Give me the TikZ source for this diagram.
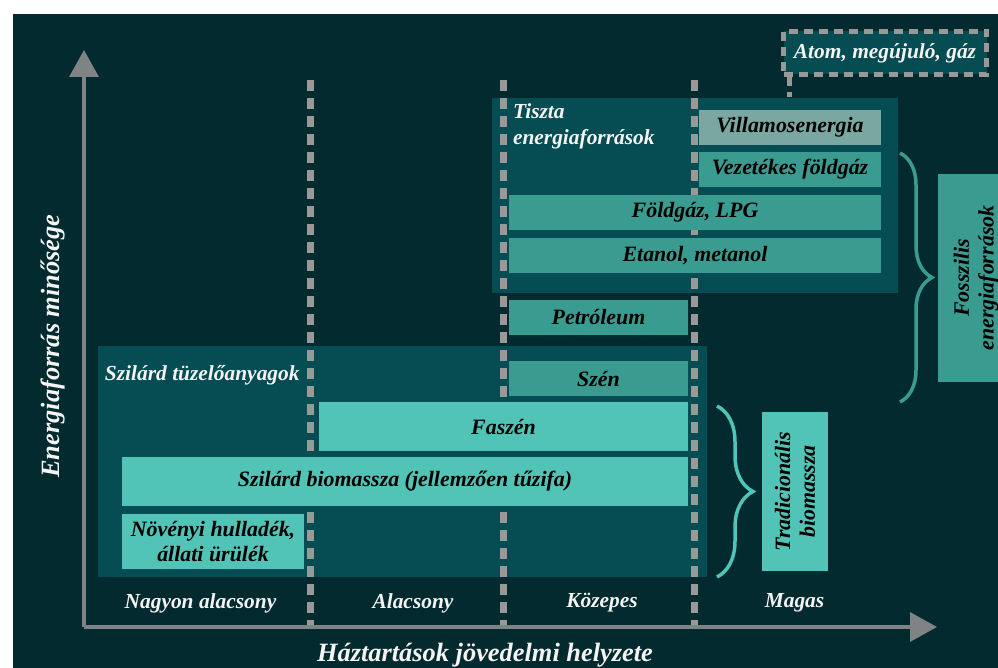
\documentclass[tikz,border=0pt]{standalone}
\usepackage{fontspec}
\setmainfont{Liberation Serif}
\usepackage{tikz}
\usetikzlibrary{arrows.meta, decorations.pathreplacing}

\definecolor{bgdark}{HTML}{032A2E}
\definecolor{boxmid}{HTML}{064C53}
\definecolor{tealgray}{HTML}{7BA7A2}
\definecolor{tealfossil}{HTML}{3A9C91}
\definecolor{tealbio}{HTML}{52C3B7}
\definecolor{axisgray}{HTML}{808384}
\definecolor{dashgray}{HTML}{999999}
\definecolor{labelwhite}{HTML}{F4F4F4}

\begin{document}
\begin{tikzpicture}[x=1bp, y=-1bp, line width=1pt,
    fuel/.style={inner sep=0pt, text=black,
      font=\fontsize{22}{25}\selectfont\bfseries\itshape},
    group/.style={inner sep=0pt, fill=boxmid},
    grouplabel/.style={inner sep=0pt, text=labelwhite, align=left,
      font=\fontsize{21.5}{26}\selectfont\bfseries\itshape},
    axistitle/.style={inner sep=0pt, text=labelwhite,
      font=\fontsize{26.5}{30}\selectfont\bfseries\itshape},
    divider/.style={color=dashgray, line width=7bp, dash pattern=on 11bp off 7bp},
    axisline/.style={color=axisgray, line width=3.5bp, -{Triangle[length=27bp, width=29bp]}},
    bracket/.style={line width=3.5bp, decorate, decoration={brace, amplitude=#1}}]

    % draw background
    \fill[white] (0, 0) rectangle (998, 668);
    \useasboundingbox (0, 0) rectangle (998, 668);
    \fill[bgdark] (13, 14) rectangle (998, 668);

    % draw group boxes
    \node[group, minimum width=406bp, minimum height=195bp] (tiszta) at (695, 195.5) {};
    \node[group, minimum width=609bp, minimum height=231bp] (szilard) at (402.5, 461.5) {};
    \node[grouplabel, anchor=north west] (tisztalbl) at ([shift={(21, 6)}]tiszta.north west)
      {Tiszta\\energiaforrások};
    \node[grouplabel, anchor=west] (szilardlbl) at ([shift={(7, 30)}]szilard.north west)
      {Szilárd tüzelőanyagok};

    % draw income dividers
    \foreach \x in {310, 503, 694}
      \draw[divider] (\x, 80) -- (\x, 627);

    % draw atom box and its link
    \node[fill=boxmid, draw=dashgray, line width=5bp, dash pattern=on 9bp off 6bp,
          minimum width=203bp, minimum height=43bp, inner sep=0pt, text=labelwhite,
          font=\fontsize{21.5}{25}\selectfont\bfseries\itshape] (atom) at (885, 53)
      {Atom, megújuló, gáz};
    \coordinate (atomleg) at (789, 0);
    \draw[color=dashgray, line width=5bp, dash pattern=on 9bp off 6bp]
      (atom.south -| atomleg) -- (tiszta.north -| atomleg);

    % draw fuel boxes
    \node[fuel, fill=tealgray, minimum width=182bp, minimum height=35bp] (villamos) at (790, 127.5) {Villamosenergia};
    \node[fuel, fill=tealfossil, minimum width=182bp, minimum height=35bp] (vezetekes) at (790, 169.5) {Vezetékes földgáz};
    \node[fuel, fill=tealfossil, minimum width=372bp, minimum height=35bp] (lpg) at (695, 212.5) {Földgáz, LPG};
    \node[fuel, fill=tealfossil, minimum width=372bp, minimum height=35bp] (etanol) at (695, 255.5) {Etanol, metanol};
    \node[fuel, fill=tealfossil, minimum width=179bp, minimum height=35bp] (petroleum) at (598.5, 317.5) {Petróleum};
    \node[fuel, fill=tealfossil, minimum width=179bp, minimum height=35bp] (szen) at (598.5, 378.5) {Szén};
    \node[fuel, fill=tealbio, minimum width=369bp, minimum height=49bp] (faszen) at (503.5, 426.5) {Faszén};
    \node[fuel, fill=tealbio, minimum width=566bp, minimum height=49bp] (biomassza) at (405, 481.5) {Szilárd biomassza (jellemzően tűzifa)};
    \node[fuel, fill=tealbio, minimum width=182bp, minimum height=55bp, align=center] (hulladek) at (213, 541.5) {Növényi hulladék,\\állati ürülék};

    % draw braces and their labels
    \coordinate (fosstop) at (900, 153);
    \coordinate (fossbot) at (900, 402);
    \draw[bracket=32bp, color=tealfossil] (fosstop) -- (fossbot);
    \node[fuel, fill=tealfossil, rotate=90, align=center, minimum width=208bp, minimum height=76bp]
      (fosszilis) at (976, 278) {Fosszilis\\energiaforrások};

    \coordinate (tradtop) at (717, 406);
    \coordinate (tradbot) at (717, 577);
    \draw[bracket=36bp, color=tealbio] (tradtop) -- (tradbot);
    \node[fuel, fill=tealbio, rotate=90, align=center, minimum width=159bp, minimum height=66bp]
      (tradicionalis) at (795, 491.5) {Tradicionális\\biomassza};

    % draw axes
    \coordinate (origin) at (84, 627);
    \coordinate (ytip) at (84, 50);
    \coordinate (xtip) at (937, 627);
    \draw[axisline] (origin) -- (ytip);
    \draw[axisline] (origin) -- (xtip);

    % draw axis labels
    \node[grouplabel] (nagyon) at (200.5, 603) {Nagyon alacsony};
    \node[grouplabel] (alacsony) at (413, 603) {Alacsony};
    \node[grouplabel] (kozepes) at (602, 603) {Közepes};
    \node[grouplabel] (magas) at (794.5, 603) {Magas};
    \node[axistitle] (xtitle) at (485, 655) {Háztartások jövedelmi helyzete};
    \node[axistitle, rotate=90] (ytitle) at (53, 346) {Energiaforrás minősége};

\end{tikzpicture}
\end{document}
